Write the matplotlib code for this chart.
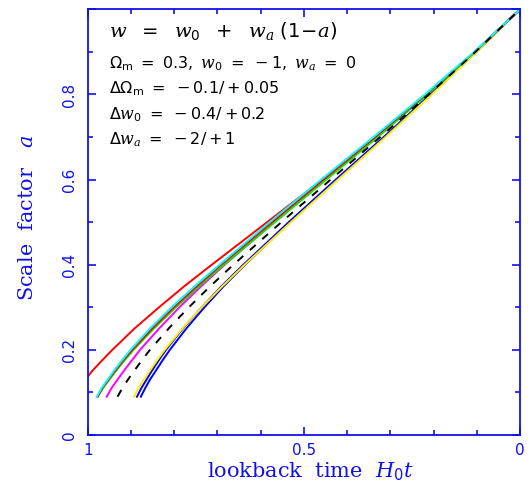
import numpy as np
import matplotlib
matplotlib.use("Agg")
from matplotlib import pyplot as plt
from matplotlib.ticker import MultipleLocator, FixedLocator

plt.rcParams['mathtext.fontset'] = 'custom'
plt.rcParams['mathtext.rm'] = 'DejaVu Sans'
plt.rcParams['mathtext.it'] = 'DejaVu Serif:italic'
plt.rcParams['mathtext.bf'] = 'DejaVu Sans:bold'

AXCOL = '#1010ee'

# scale factor grid shared by the curves
a_grid = [0.09, 0.11, 0.13, 0.15, 0.175, 0.2, 0.25, 0.3, 0.35, 0.4,
          0.5, 0.6, 0.7, 0.8, 0.9, 1.0]

# lookback time H0 t for each model
t_fid = [0.931, 0.920, 0.907, 0.893, 0.875, 0.856, 0.813, 0.766, 0.716, 0.663,
         0.552, 0.438, 0.323, 0.211, 0.103, 0.0]
t_cyan = [0.979, 0.968, 0.954, 0.940, 0.921, 0.901, 0.856, 0.806, 0.752, 0.695,
          0.579, 0.460, 0.339, 0.220, 0.106, 0.0]
t_red2 = [0.977, 0.966, 0.952, 0.937, 0.918, 0.897, 0.851, 0.801, 0.747, 0.691,
          0.574, 0.455, 0.335, 0.218, 0.105, 0.0]
t_green = [0.977, 0.965, 0.950, 0.935, 0.915, 0.894, 0.847, 0.796, 0.742, 0.685,
           0.567, 0.448, 0.329, 0.214, 0.104, 0.0]
t_magenta = [0.956, 0.945, 0.931, 0.917, 0.898, 0.879, 0.835, 0.788, 0.737, 0.683,
             0.569, 0.451, 0.332, 0.216, 0.105, 0.0]
t_yellow = [0.893, 0.883, 0.870, 0.857, 0.840, 0.822, 0.781, 0.736, 0.688, 0.637,
            0.530, 0.421, 0.311, 0.204, 0.100, 0.0]
t_blue1 = [0.886, 0.876, 0.864, 0.852, 0.836, 0.819, 0.780, 0.736, 0.690, 0.640,
           0.535, 0.426, 0.315, 0.207, 0.102, 0.0]
t_blue2 = [0.877, 0.867, 0.856, 0.843, 0.827, 0.810, 0.772, 0.730, 0.685, 0.636,
           0.532, 0.424, 0.314, 0.206, 0.101, 0.0]

# low-Omega_m curve runs off the left edge, so it has its own grid
a_red1 = [0.137, 0.15, 0.175, 0.2, 0.25, 0.3, 0.35, 0.4, 0.5, 0.6, 0.7, 0.8, 0.9, 1.0]
t_red1 = [1.0, 0.990, 0.967, 0.943, 0.892, 0.835, 0.776, 0.713, 0.585, 0.457,
          0.333, 0.215, 0.104, 0.0]

fig = plt.figure(figsize=(5.31, 4.86), dpi=100)
ax = fig.add_axes([87.7 / 531, 1 - 435 / 486, (520 - 87.7) / 531, (435 - 9.3) / 486])

lw = 1.4
ax.plot(t_red1, a_red1, color='#ff0000', lw=lw)
ax.plot(t_blue2, a_grid, color='#0000ff', lw=lw)
ax.plot(t_blue1, a_grid, color='#0000ff', lw=lw)
ax.plot(t_yellow, a_grid, color='#ffee00', lw=lw)
ax.plot(t_magenta, a_grid, color='#ff00ff', lw=lw)
ax.plot(t_green, a_grid, color='#00ee00', lw=lw)
ax.plot(t_red2, a_grid, color='#ff0000', lw=lw)
ax.plot(t_cyan, a_grid, color='#00ffff', lw=lw)
ax.plot(t_fid, a_grid, color='black', lw=lw, dashes=(4, 4.5))

ax.set_xlim(1, 0)
ax.set_ylim(0, 1)

ax.xaxis.set_major_locator(FixedLocator([1, 0.5, 0]))
ax.xaxis.set_minor_locator(MultipleLocator(0.1))
ax.yaxis.set_major_locator(FixedLocator([0, 0.2, 0.4, 0.6, 0.8, 1.0]))
ax.yaxis.set_minor_locator(MultipleLocator(0.1))
ax.set_xticklabels(['1', '0.5', '0'])
ax.set_yticklabels(['0', '0.2', '0.4', '0.6', '0.8', ''], rotation=90, va='center')

ax.tick_params(which='both', direction='in', top=True, right=True, color=AXCOL,
               width=1.2, labelcolor=AXCOL, labelsize=11)
ax.tick_params(which='major', length=6)
ax.tick_params(which='minor', length=3.5)
ax.tick_params(axis='x', pad=6)
ax.tick_params(axis='y', pad=8)
for s in ax.spines.values():
    s.set_color(AXCOL)
    s.set_linewidth(1.3)

# axis titles placed by hand so the subscript stays inside the canvas
fig.text(310 / 531, 1 - 478 / 486, r'lookback  time  $H_0 t$', color=AXCOL,
         fontsize=15, family='DejaVu Serif', ha='center', va='baseline')
fig.text(28 / 531, 1 - 218 / 486, r'Scale  factor   $a$', color=AXCOL,
         fontsize=15, family='DejaVu Serif', ha='center', va='center', rotation=90)

txt = dict(transform=ax.transAxes, color='black', ha='left', va='baseline')
ax.text(0.05, 0.935, r'$w\ \ =\ \ w_0\ \ +\ \ w_a\ (1\!-\!a)$', fontsize=14, **txt)
ax.text(0.05, 0.862, r'$\Omega_{\rm m}\ =\ 0.3,\ w_0\ =\ -1,\ w_a\ =\ 0$', fontsize=11.5, **txt)
ax.text(0.05, 0.802, r'$\Delta\Omega_{\rm m}\ =\ -0.1/+0.05$', fontsize=11.5, **txt)
ax.text(0.05, 0.742, r'$\Delta w_0\ =\ -0.4/+0.2$', fontsize=11.5, **txt)
ax.text(0.05, 0.682, r'$\Delta w_a\ =\ -2/+1$', fontsize=11.5, **txt)

fig.savefig('out.png', dpi=100)
